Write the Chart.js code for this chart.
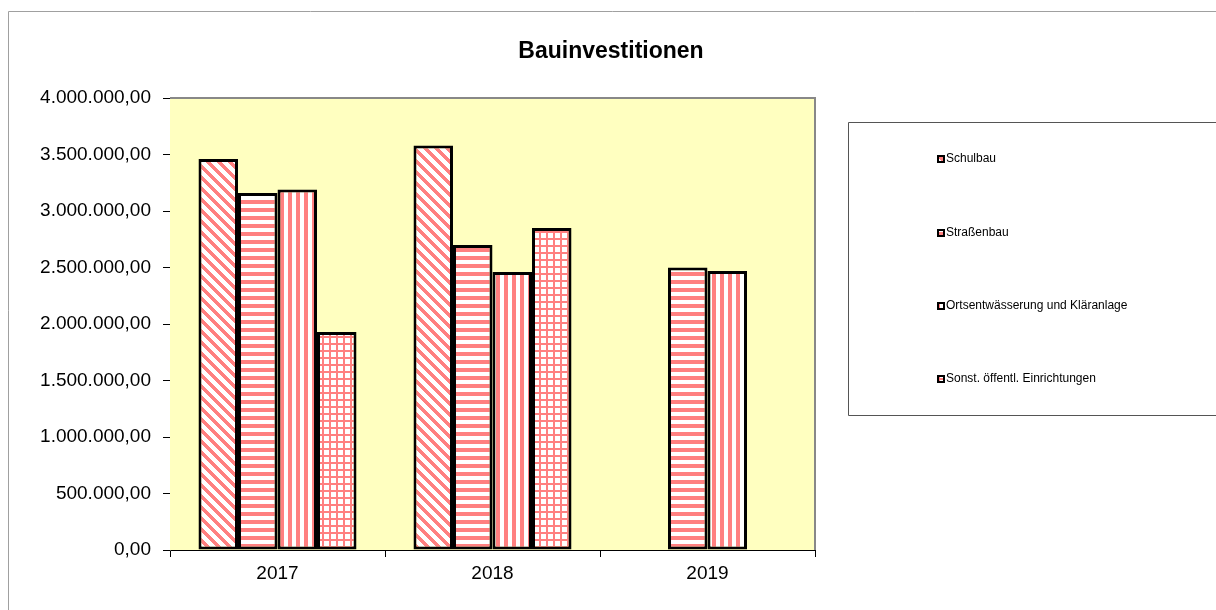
<!DOCTYPE html>
<html>
<head>
<meta charset="utf-8">
<script src="https://cdn.jsdelivr.net/npm/chart.js@4.4.1/dist/chart.umd.min.js"></script>
<style>
  html, body { margin: 0; padding: 0; background: #fff; }
  #wrap { width: 1216px; height: 610px; position: relative; }
</style>
</head>
<body>
<div id="wrap"><canvas id="chart" width="1216" height="610"></canvas></div>
<script>
// data
const years = ['2017', '2018', '2019'];
const seriesNames = ['Schulbau', 'Straßenbau', 'Ortsentwässerung und Kläranlage', 'Sonst. öffentl. Einrichtungen'];
const schulbau = [3460000, 3580000, null];
const strassenbau = [3160000, 2700000, 2500000];
const ortsentwaesserung = [3190000, 2460000, 2470000];
const sonstige = [1930000, 2850000, null];
const yTicks = [0, 500000, 1000000, 1500000, 2000000, 2500000, 3000000, 3500000, 4000000];

const SALMON = [255, 128, 128];

// small pixel tiles for the hatch fills
function makePattern(kind) {
  const size = kind === 'grid' ? 7 : (kind === 'diag' ? 11 : 8);
  const c = document.createElement('canvas');
  c.width = size; c.height = size;
  const g = c.getContext('2d');
  const img = g.createImageData(size, size);
  for (let y = 0; y < size; y++) {
    for (let x = 0; x < size; x++) {
      let on = false;
      if (kind === 'diag') on = (((x - y) % 11) + 11) % 11 < 5;
      if (kind === 'hor') on = y % 8 < 4;
      if (kind === 'ver') on = x % 8 < 4;
      if (kind === 'grid') on = x % 7 < 2 || y % 7 < 2;
      const i = (y * size + x) * 4;
      const col = on ? SALMON : [255, 255, 255];
      img.data[i] = col[0]; img.data[i + 1] = col[1]; img.data[i + 2] = col[2]; img.data[i + 3] = 255;
    }
  }
  g.putImageData(img, 0, 0);
  return document.getElementById('chart').getContext('2d').createPattern(c, 'repeat');
}

const patterns = [makePattern('diag'), makePattern('hor'), makePattern('ver'), makePattern('grid')];
const seriesData = [schulbau, strassenbau, ortsentwaesserung, sonstige];

const fmt = new Intl.NumberFormat('de-DE', { minimumFractionDigits: 2, maximumFractionDigits: 2 });
const FONT = '"Liberation Sans", Arial, sans-serif';

const frame = {
  id: 'frame',
  beforeDatasetsDraw(chart) {
    const { ctx, chartArea: a } = chart;
    ctx.save();
    ctx.fillStyle = '#FFFFC0';
    ctx.fillRect(a.left, a.top, a.right - a.left, a.bottom - a.top);
    ctx.strokeStyle = '#888888';
    ctx.lineWidth = 2;
    ctx.beginPath();
    ctx.moveTo(a.left, a.top);
    ctx.lineTo(a.right, a.top);
    ctx.lineTo(a.right, a.bottom);
    ctx.stroke();
    ctx.restore();
  },
  afterDraw(chart) {
    const ctx = chart.ctx;
    ctx.save();
    // outer chart frame
    ctx.strokeStyle = '#a0a0a0';
    ctx.lineWidth = 1;
    ctx.beginPath();
    ctx.moveTo(8.5, 610);
    ctx.lineTo(8.5, 11.5);
    ctx.lineTo(1216, 11.5);
    ctx.stroke();
    // title
    ctx.fillStyle = '#000';
    ctx.font = 'bold 23px ' + FONT;
    ctx.textAlign = 'center';
    ctx.textBaseline = 'middle';
    ctx.fillText('Bauinvestitionen', 611, 52);
    // legend box
    ctx.strokeStyle = '#555555';
    ctx.beginPath();
    ctx.moveTo(1216, 122.5);
    ctx.lineTo(848.5, 122.5);
    ctx.lineTo(848.5, 415.5);
    ctx.lineTo(1216, 415.5);
    ctx.stroke();
    ctx.font = '12px ' + FONT;
    ctx.textAlign = 'left';
    const rows = [159, 233, 306, 379];
    chart.data.datasets.forEach((ds, i) => {
      const y = rows[i];
      ctx.fillStyle = '#000';
      ctx.fillRect(937, y - 4, 8, 8);
      ctx.fillStyle = ds.backgroundColor;
      ctx.fillRect(939, y - 2, 4, 4);
      ctx.fillStyle = '#000';
      ctx.fillText(ds.label, 946, y);
    });
    ctx.restore();
  }
};

new Chart(document.getElementById('chart'), {
  type: 'bar',
  data: {
    labels: years,
    datasets: seriesNames.map((name, i) => ({
      label: name,
      data: seriesData[i],
      backgroundColor: patterns[i],
      borderColor: '#000',
      borderWidth: 3,
      borderSkipped: false,
      categoryPercentage: 0.735,
      barPercentage: 1
    }))
  },
  options: {
    responsive: false,
    animation: false,
    layout: { padding: { top: 98, right: 401, left: 0, bottom: 0 } },
    plugins: {
      legend: { display: false },
      title: { display: false },
      tooltip: { enabled: false }
    },
    scales: {
      x: {
        grid: { drawOnChartArea: false, offset: true, color: '#000', tickLength: 7, tickWidth: 1 },
        border: { color: '#000', width: 1 },
        ticks: { color: '#000', font: { size: 19, family: FONT }, padding: 5 },
        afterFit(scale) { scale.height = 60; }
      },
      y: {
        min: 0,
        max: 4000000,
        afterBuildTicks(scale) { scale.ticks = yTicks.map(v => ({ value: v })); },
        grid: { drawOnChartArea: false, color: '#000', tickLength: 7 },
        border: { color: '#555', width: 1 },
        ticks: {
          color: '#000',
          padding: 12,
          font: { size: 19, family: FONT },
          callback: v => fmt.format(v)
        },
        afterFit(scale) { scale.width = 170; }
      }
    }
  },
  plugins: [frame]
});
</script>
</body>
</html>
